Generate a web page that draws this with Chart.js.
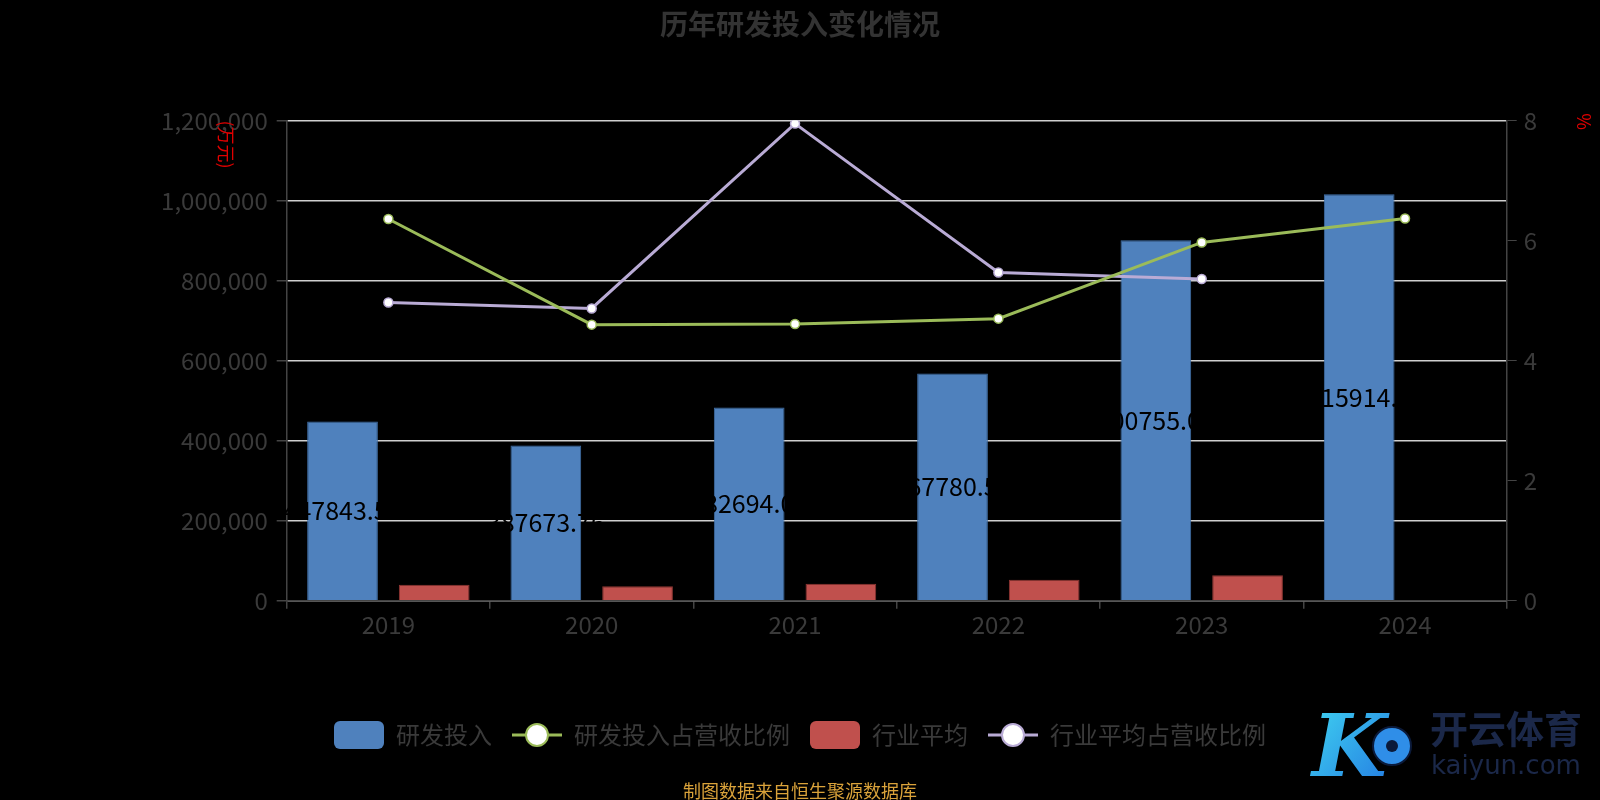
<!DOCTYPE html>
<html>
<head>
<meta charset="utf-8">
<script src="https://cdn.jsdelivr.net/npm/chart.js@4.4.1/dist/chart.umd.min.js"></script>
<style>
  html, body { margin: 0; padding: 0; background: #000; }
  #wrap { width: 1600px; height: 800px; position: relative; }
</style>
</head>
<body>
<div id="wrap"><canvas id="c" width="1600" height="800"></canvas></div>
<script>
// ---- data ----
const years = ['2019', '2020', '2021', '2022', '2023', '2024'];
const rdInvest = [447843.53, 387673.76, 482694.05, 567780.52, 900755.07, 1015914.26];
const rdRatio = [6.36, 4.60, 4.61, 4.70, 5.97, 6.37];
const industryAvg = [40000, 36000, 42500, 52500, 63300, null];
const industryRatio = [4.97, 4.87, 7.95, 5.47, 5.36, null];
const seriesNames = ['研发投入', '研发投入占营收比例', '行业平均', '行业平均占营收比例'];
const titleText = '历年研发投入变化情况';
const leftUnit = '(万元)';
const rightUnit = '%';
const sourceText = '制图数据来自恒生聚源数据库';

const FONT = "'Noto Sans CJK SC', 'Noto Sans', sans-serif";
const BLUE = '#4f81bd', RED = '#c0504d', GREEN = '#9bbb59', PURPLE = '#b9abd5';
const TXT = '#3a3a3a', AXIS = '#444444', GRID = '#cfcfcf';

function boxIcon(color) {
  const c = document.createElement('canvas'); c.width = 50; c.height = 28;
  const g = c.getContext('2d');
  g.fillStyle = color; g.beginPath();
  if (g.roundRect) g.roundRect(0, 0, 50, 28, 6); else g.rect(0, 0, 50, 28);
  g.fill();
  return c;
}
function lineIcon(color) {
  const c = document.createElement('canvas'); c.width = 50; c.height = 28;
  const g = c.getContext('2d');
  g.strokeStyle = color; g.lineWidth = 3;
  g.beginPath(); g.moveTo(0, 14); g.lineTo(50, 14); g.stroke();
  g.beginPath(); g.arc(25, 14, 11, 0, Math.PI * 2);
  g.fillStyle = '#fff'; g.fill(); g.lineWidth = 2; g.stroke();
  return c;
}
const icons = [boxIcon(BLUE), lineIcon(GREEN), boxIcon(RED), lineIcon(PURPLE)];

const bgPlugin = {
  id: 'bg',
  beforeDraw(chart) {
    const ctx = chart.ctx;
    ctx.save(); ctx.fillStyle = '#000'; ctx.fillRect(0, 0, chart.width, chart.height); ctx.restore();
  }
};

const labelPlugin = {
  id: 'barLabels',
  afterDatasetsDraw(chart) {
    const ctx = chart.ctx;
    const meta = chart.getDatasetMeta(0);
    ctx.save();
    ctx.font = '25px ' + FONT;
    ctx.fillStyle = '#000';
    ctx.textAlign = 'center'; ctx.textBaseline = 'middle';
    meta.data.forEach((bar, i) => {
      const v = rdInvest[i];
      if (v == null) return;
      ctx.fillText(v.toFixed(2), bar.x, (bar.y + bar.base) / 2);
    });
    ctx.restore();
  }
};

const extrasPlugin = {
  id: 'extras',
  afterDraw(chart) {
    const ctx = chart.ctx;
    const ca = chart.chartArea;
    ctx.save();
    // axis unit names
    ctx.fillStyle = '#e00000';
    ctx.font = '18px ' + FONT;
    ctx.textAlign = 'center'; ctx.textBaseline = 'middle';
    ctx.save(); ctx.translate(ca.left - 61, ca.top + 24); ctx.rotate(Math.PI / 2); ctx.fillText(leftUnit, 0, 0); ctx.restore();
    ctx.save(); ctx.translate(ca.right + 77, ca.top + 1); ctx.rotate(Math.PI / 2); ctx.fillText(rightUnit, 0, 0); ctx.restore();
    // source text
    ctx.fillStyle = '#d9a23a';
    ctx.font = '18px ' + FONT;
    ctx.fillText(sourceText, 800, 791);
    // watermark logo
    const grad = ctx.createLinearGradient(1318, 700, 1418, 780);
    grad.addColorStop(0, '#3fd0f0'); grad.addColorStop(1, '#1f6fe0');
    ctx.fillStyle = grad;
    ctx.font = 'italic bold 86px "DejaVu Serif", serif';
    ctx.textAlign = 'left'; ctx.textBaseline = 'alphabetic';
    ctx.fillText('K', 1312, 776);
    ctx.beginPath(); ctx.arc(1392, 746, 19, 0, Math.PI * 2);
    ctx.fillStyle = '#2f8ee8'; ctx.fill();
    ctx.lineWidth = 2; ctx.strokeStyle = '#0b1a3a'; ctx.stroke();
    ctx.beginPath(); ctx.arc(1392, 746, 6, 0, Math.PI * 2); ctx.fillStyle = '#0b1a3a'; ctx.fill();
    ctx.fillStyle = '#1b2849';
    ctx.font = 'bold 38px ' + FONT;
    ctx.textBaseline = 'middle';
    ctx.fillText('开云体育', 1430, 729);
    ctx.font = '26px "DejaVu Sans", sans-serif';
    ctx.fillText('kaiyun.com', 1431, 767);
    ctx.restore();
  }
};

const chart = new Chart(document.getElementById('c'), {
  data: {
    labels: years,
    datasets: [
      { type: 'bar', label: seriesNames[0], data: rdInvest, backgroundColor: BLUE, borderColor: '#3f6ea6', borderWidth: 1, yAxisID: 'y', order: 2, categoryPercentage: 0.902, barPercentage: 0.771 },
      { type: 'line', label: seriesNames[1], data: rdRatio, borderColor: GREEN, backgroundColor: '#fff', borderWidth: 3, pointRadius: 4.5, pointBorderWidth: 1.5, pointBorderColor: GREEN, pointBackgroundColor: '#fff', yAxisID: 'y1', order: 1, tension: 0 },
      { type: 'bar', label: seriesNames[2], data: industryAvg, backgroundColor: RED, borderColor: '#8e3532', borderWidth: 1, yAxisID: 'y', order: 2, categoryPercentage: 0.902, barPercentage: 0.771 },
      { type: 'line', label: seriesNames[3], data: industryRatio, borderColor: PURPLE, backgroundColor: '#fff', borderWidth: 3, pointRadius: 4.5, pointBorderWidth: 1.5, pointBorderColor: PURPLE, pointBackgroundColor: '#fff', yAxisID: 'y1', order: 1, tension: 0 }
    ]
  },
  options: {
    responsive: false,
    devicePixelRatio: 1,
    animation: false,
    layout: { padding: { left: 0, right: 0, top: 0, bottom: 43 } },
    plugins: {
      tooltip: { enabled: false },
      title: {
        display: true, text: titleText, color: '#333',
        font: { family: FONT, size: 28, weight: 'bold' },
        padding: { top: 8, bottom: 79 }
      },
      legend: {
        position: 'bottom',
        labels: {
          usePointStyle: true, pointStyleWidth: 50, boxWidth: 50, boxHeight: 28,
          padding: 20, color: TXT,
          font: { family: FONT, size: 24 },
          sort: (a, b) => a.datasetIndex - b.datasetIndex,
          generateLabels(ch) {
            return ch.data.datasets.map((ds, i) => ({
              text: ds.label, datasetIndex: i, pointStyle: icons[i],
              fillStyle: '#000', strokeStyle: '#000', lineWidth: 0, hidden: false, fontColor: TXT
            }));
          }
        }
      }
    },
    scales: {
      x: {
        offset: true,
        grid: { offset: true, drawOnChartArea: false, drawTicks: true, tickLength: 8, tickColor: AXIS, lineWidth: 1.5 },
        border: { color: AXIS, width: 1.5 },
        ticks: { color: TXT, font: { family: FONT, size: 24 }, padding: 2 },
        afterFit(s) { s.height = 102.3; }
      },
      y: {
        position: 'left', min: 0, max: 1200000,
        grid: { color: GRID, lineWidth: 1.5, tickColor: AXIS, tickLength: 10 },
        border: { color: AXIS, width: 1.5 },
        ticks: { stepSize: 200000, color: TXT, font: { family: FONT, size: 24 }, padding: 9,
          callback: v => Number(v).toLocaleString('en-US') },
        afterFit(s) { s.width = 286.7; }
      },
      y1: {
        position: 'right', min: 0, max: 8,
        grid: { drawOnChartArea: false, tickColor: AXIS, tickLength: 10 },
        border: { color: AXIS, width: 1.5 },
        ticks: { stepSize: 2, color: TXT, font: { family: FONT, size: 24 }, padding: 7 },
        afterFit(s) { s.width = 93.3; }
      }
    }
  },
  plugins: [bgPlugin, labelPlugin, extrasPlugin]
});
</script>
</body>
</html>
